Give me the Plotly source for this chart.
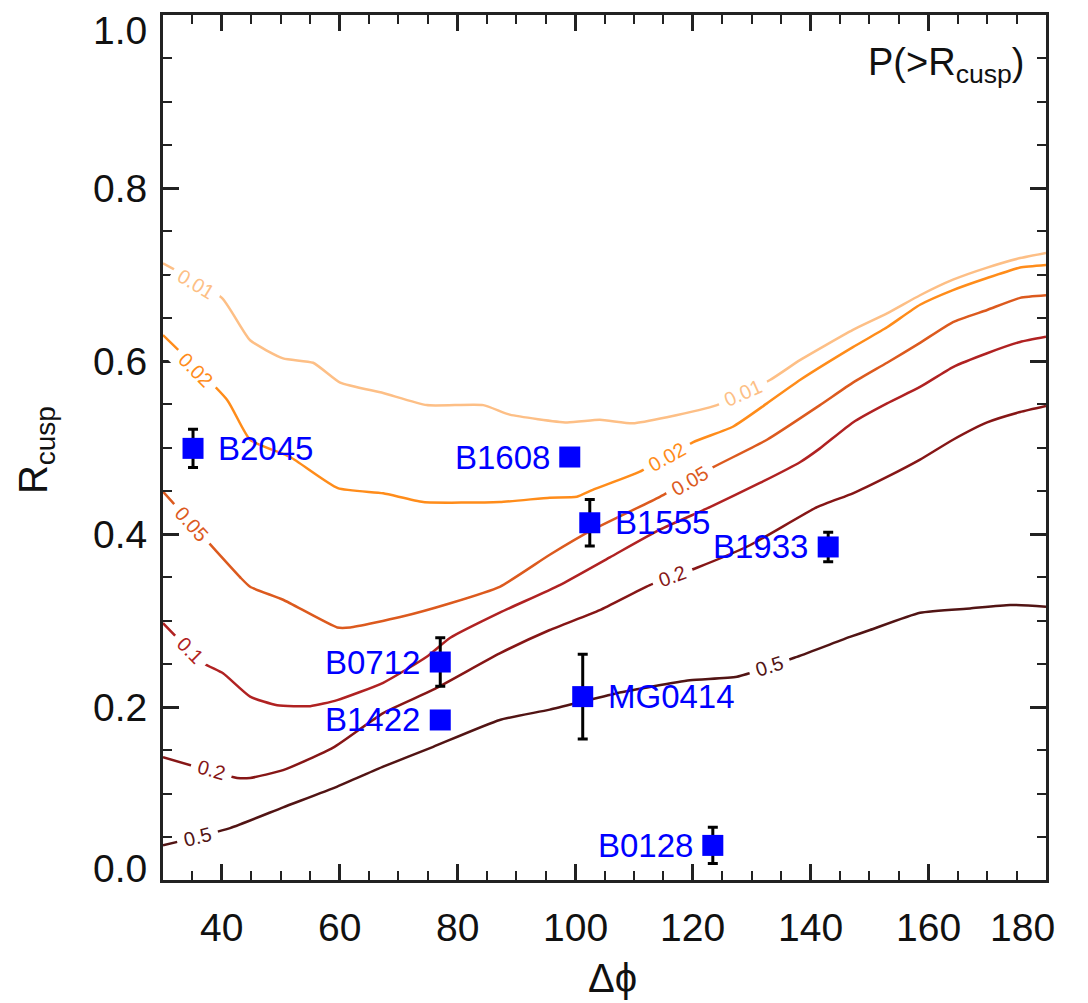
import plotly.graph_objects as go

# Contour levels of P(>R_cusp) and their colours
levels = ["0.01", "0.02", "0.05", "0.1", "0.2", "0.5"]
line_colors = ["#fdbf86", "#ff8c1a", "#dc5a1e", "#b02222", "#861616", "#521414"]

# Contour paths in (delta phi, R_cusp)
c001_x = [30, 40.0, 44.8, 50.4, 55.5, 60.1, 67.4, 74.8, 84.4, 88.9, 98.6, 104.2, 109.8, 115.6,
          124.1, 133.1, 138.2, 147.2, 153.0, 158.6, 164.2, 170.0, 175.6, 180]
c001_y = [0.713, 0.673, 0.624, 0.603, 0.598, 0.575, 0.563, 0.549, 0.549, 0.538, 0.529, 0.532, 0.528, 0.535,
          0.549, 0.578, 0.601, 0.636, 0.655, 0.676, 0.694, 0.708, 0.719, 0.725]

c002_x = [30, 40.9, 44.8, 51.6, 59.7, 67.4, 74.2, 87.2, 95.7, 100.3, 103.0, 111.0, 120.0, 126.8,
          132.6, 138.2, 147.2, 153.0, 158.6, 164.2, 170.0, 175.6, 180]
c002_y = [0.630, 0.555, 0.509, 0.489, 0.453, 0.447, 0.437, 0.437, 0.442, 0.443, 0.451, 0.472, 0.506, 0.524,
          0.551, 0.578, 0.616, 0.639, 0.665, 0.682, 0.696, 0.708, 0.711]

c005_x = [30, 39.2, 43.1, 44.8, 50.4, 59.6, 61.8, 70.3, 78.8, 87.2, 95.7, 103.0, 114.4, 123.4,
          132.6, 141.6, 147.2, 153.0, 158.6, 164.2, 170.0, 175.6, 180]
c005_y = [0.449, 0.379, 0.350, 0.339, 0.324, 0.292, 0.292, 0.304, 0.320, 0.339, 0.376, 0.405, 0.443, 0.477,
          0.509, 0.549, 0.575, 0.598, 0.621, 0.645, 0.659, 0.673, 0.676]

c01_x = [30, 36.8, 40.2, 44.8, 49.4, 55.0, 59.6, 67.4, 74.8, 78.8, 87.2, 97.4, 105.9, 114.4, 122.9,
         131.4, 138.2, 141.6, 147.2, 153.0, 158.6, 164.2, 170.0, 175.6, 180]
c01_y = [0.297, 0.251, 0.239, 0.212, 0.202, 0.201, 0.208, 0.228, 0.258, 0.280, 0.309, 0.341, 0.373, 0.405, 0.431,
         0.459, 0.483, 0.499, 0.529, 0.551, 0.570, 0.593, 0.609, 0.622, 0.628]

c02_x = [30, 42.6, 44.8, 50.4, 58.9, 67.4, 75.9, 87.2, 95.7, 104.2, 112.7, 120.7, 129.7, 141.1,
         147.2, 153.0, 158.6, 164.2, 170.0, 175.6, 180]
c02_y = [0.142, 0.118, 0.118, 0.127, 0.153, 0.193, 0.220, 0.262, 0.289, 0.312, 0.341, 0.361, 0.387, 0.431,
         0.447, 0.466, 0.486, 0.509, 0.529, 0.541, 0.548]

c05_x = [30, 41.4, 50.4, 59.6, 67.4, 75.9, 87.2, 95.7, 107.1, 119.5, 127.5, 137.7, 146.7, 150.1,
         158.6, 167.1, 173.9, 180]
c05_y = [0.040, 0.060, 0.084, 0.108, 0.131, 0.154, 0.185, 0.197, 0.216, 0.231, 0.235, 0.258, 0.281, 0.289,
         0.309, 0.314, 0.318, 0.316]

contour_x = [c001_x, c002_x, c005_x, c01_x, c02_x, c05_x]
contour_y = [c001_y, c002_y, c005_y, c01_y, c02_y, c05_y]

# Observed cusp lenses
lens_names = ["B2045", "B1608", "B1555", "B1933", "B0712", "B1422", "MG0414", "B0128"]
lens_dphi = [35.1, 99.1, 102.5, 143.0, 77.1, 77.1, 101.3, 123.4]
lens_rcusp = [0.499, 0.489, 0.413, 0.385, 0.252, 0.185, 0.212, 0.040]
lens_rerr = [0.022, 0.0, 0.027, 0.017, 0.028, 0.0, 0.049, 0.021]

x_tick_vals = [40, 60, 80, 100, 120, 140, 160, 180]
y_tick_vals = [0.0, 0.2, 0.4, 0.6, 0.8, 1.0]
x_range = [30, 180]
y_range = [0, 1]

fig = go.Figure()

for col, xs, ys in zip(line_colors, contour_x, contour_y):
    fig.add_trace(go.Scatter(x=xs, y=ys, mode="lines",
                             line=dict(color=col, width=2.5, shape="spline", smoothing=0.5),
                             hoverinfo="skip", showlegend=False))

fig.add_trace(go.Scatter(
    x=lens_dphi, y=lens_rcusp, mode="markers",
    marker=dict(symbol="square", size=21, color="#0000ff"),
    error_y=dict(type="data", array=lens_rerr, color="black", thickness=3, width=5),
    hoverinfo="skip", showlegend=False))

# invisible trace that carries the top/right tick axes
fig.add_trace(go.Scatter(x=x_range, y=y_range, xaxis="x2", yaxis="y2", mode="markers",
                         marker=dict(opacity=0), hoverinfo="skip", showlegend=False))

annotations = []

# inline contour labels: (level index, x, y, angle)
label_spots = [
    (0, 35.6, 0.689, 31), (0, 128.5, 0.563, -24),
    (1, 35.6, 0.590, 45), (1, 115.6, 0.489, -29),
    (2, 34.9, 0.412, 48), (2, 119.5, 0.461, -30),
    (3, 34.6, 0.266, 45),
    (4, 38.3, 0.127, 16), (4, 116.6, 0.351, -20),
    (5, 35.8, 0.050, -14), (5, 133.1, 0.247, -18),
]
for i, lx, ly, ang in label_spots:
    annotations.append(dict(
        x=lx, y=ly, xref="x", yref="y", text="&nbsp;" + levels[i] + "&nbsp;", showarrow=False,
        textangle=ang, bgcolor="white", borderpad=1,
        font=dict(family="Liberation Sans, Arial, sans-serif", size=20, color=line_colors[i])))

# lens names beside the points
sides = ["right", "left", "right", "left", "left", "left", "right", "left"]
for name, lx, ly, side in zip(lens_names, lens_dphi, lens_rcusp, sides):
    annotations.append(dict(
        x=lx, y=ly, xref="x", yref="y", text=name, showarrow=False,
        xanchor="left" if side == "right" else "right",
        xshift=23 if side == "right" else -18,
        font=dict(family="Liberation Sans, Arial, sans-serif", size=33, color="#0000ff")))

tick_font = dict(family="Liberation Sans, Arial, sans-serif", size=39, color="#111111")
for v in x_tick_vals:
    annotations.append(dict(
        x=v, y=0, xref="x", yref="paper", text=str(v), showarrow=False,
        xanchor="center", yanchor="middle", yshift=-47,
        xshift=-24 if v == x_tick_vals[-1] else 0, font=tick_font))
for v in y_tick_vals:
    shift = 0
    if v == y_tick_vals[0]:
        shift = 12
    elif v == y_tick_vals[-1]:
        shift = -15
    annotations.append(dict(
        x=0, y=v, xref="paper", yref="y", text=f"{v:.1f}", showarrow=False,
        xanchor="right", yanchor="middle", xshift=-14, yshift=shift, font=tick_font))

# axis titles and panel label
annotations.append(dict(
    x=106.4, y=0, xref="x", yref="paper", text="Δϕ", showarrow=False,
    yanchor="middle", yshift=-98,
    font=dict(family="Liberation Sans, Arial, sans-serif", size=40, color="#111111")))
annotations.append(dict(
    x=0, y=0.497, xref="paper", yref="y", text="R<sub>cusp</sub>", showarrow=False,
    textangle=-90, xanchor="center", yanchor="middle", xshift=-127,
    font=dict(family="Liberation Sans, Arial, sans-serif", size=40, color="#111111")))
annotations.append(dict(
    x=1, y=1, xref="paper", yref="paper", text="P(&gt;R<sub>cusp</sub>)", showarrow=False,
    xanchor="right", yanchor="middle", xshift=-20, yshift=-50,
    font=dict(family="Liberation Sans, Arial, sans-serif", size=38, color="#111111")))

axis_common = dict(
    showgrid=False, zeroline=False, showticklabels=False,
    showline=True, linecolor="#222222", linewidth=3,
    ticks="inside", ticklen=16, tickwidth=3, tickcolor="#222222",
)
x_minor = dict(ticks="inside", ticklen=9, tickwidth=2, dtick=5, tickcolor="#222222")
y_minor = dict(ticks="inside", ticklen=9, tickwidth=2, dtick=0.05, tickcolor="#222222")

fig.update_layout(
    width=1088, height=1003,
    margin=dict(l=163, r=42, t=15, b=123),
    plot_bgcolor="white", paper_bgcolor="white",
    xaxis=dict(range=x_range, tick0=0, dtick=20, minor=x_minor, **axis_common),
    yaxis=dict(range=y_range, tick0=0, dtick=0.2, minor=y_minor, **axis_common),
    xaxis2=dict(range=x_range, tick0=0, dtick=20, minor=x_minor, overlaying="x",
                side="top", anchor="y2", **axis_common),
    yaxis2=dict(range=y_range, tick0=0, dtick=0.2, minor=y_minor, overlaying="y",
                side="right", anchor="x2", **axis_common),
    annotations=annotations,
)

fig.write_html("out.html")
